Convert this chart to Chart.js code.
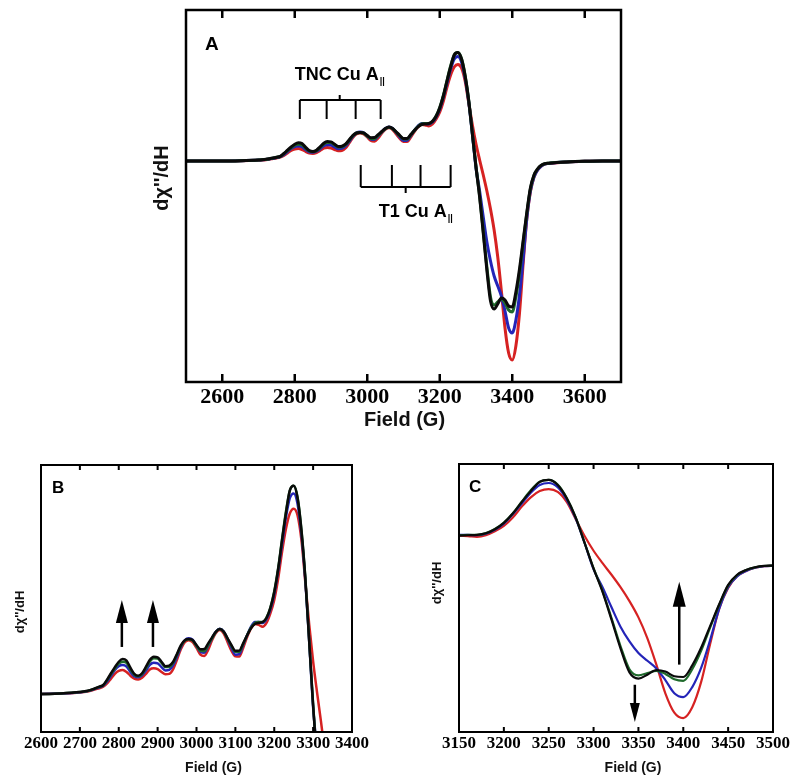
<!DOCTYPE html>
<html>
<head>
<meta charset="utf-8">
<script src="https://cdn.jsdelivr.net/npm/chart.js@4.4.1/dist/chart.umd.min.js"></script>
<style>
body { margin: 0; background: #fff; width: 800px; height: 783px; position: relative; overflow: hidden; }
.panel { position: absolute; }
</style>
</head>
<body>
<div class="panel" style="left:130px;top:0;width:520px;height:440px"><canvas id="chartA"></canvas></div>
<div class="panel" style="left:0;top:455px;width:370px;height:328px"><canvas id="chartB"></canvas></div>
<div class="panel" style="left:400px;top:455px;width:400px;height:328px"><canvas id="chartC"></canvas></div>
<script>

// magnetic field (G)
var field = [2500, 2550, 2600, 2650,
  2700, 2710, 2720, 2730, 2740, 2750, 2760, 2770, 2780, 2790,
  2800, 2810, 2820, 2830, 2840, 2850, 2860, 2870, 2880, 2890,
  2900, 2910, 2920, 2930, 2940, 2950, 2960, 2970, 2980, 2990,
  3000, 3010, 3020, 3030, 3040, 3050, 3060, 3070, 3080, 3090,
  3100, 3110, 3120, 3130, 3140, 3150, 3160, 3170, 3180, 3190,
  3200, 3210, 3220, 3230, 3240, 3250, 3260, 3270, 3280, 3290,
  3300, 3310, 3320, 3330, 3340, 3350, 3360, 3370, 3380, 3390,
  3400, 3410, 3420, 3430, 3440, 3450, 3460, 3470, 3480, 3490,
  3500, 3550, 3600, 3650, 3700];

var blackY = [0, 0, 0, 0.3,
  1, 1.3, 1.7, 2.3, 3, 3.8, 4.7, 7.5, 10.8, 14,
  16.8, 18.2, 17.4, 13.7, 10.5, 9.5, 10.8, 14.2, 17.8, 19.4,
  19.1, 16.8, 14.5, 14.8, 16.8, 21, 25.5, 28, 28.6, 28.1,
  25.5, 23.3, 23.4, 26.4, 29.5, 32.5, 33.9, 32.5, 29, 25.5,
  22.5, 22.6, 26.4, 30.5, 34.2, 36.5, 37, 37.5, 39.6, 44.8,
  53, 65, 80, 94, 106, 108.5, 102, 85, 60, 27,
  -6, -36, -72, -109, -140, -148, -143, -137, -139, -145,
  -146, -131, -108, -80, -52, -27, -14, -7.8, -4.3, -2.6,
  -2.2, -1, -0.3, 0, 0];

var greenY = [0, 0, 0, 0.3,
  1, 1.3, 1.6, 2.2, 2.9, 3.7, 4.5, 7.2, 10.3, 13.3,
  15.8, 16.8, 16.2, 12.8, 10, 9.2, 10.4, 13.5, 17, 18.6,
  18.4, 16.2, 14, 14.2, 16.3, 20.5, 25, 27.8, 28.5, 27.8,
  25, 22.5, 22.3, 25.5, 29, 32.3, 33.8, 32.3, 28.7, 25,
  22, 22, 26, 30.5, 34.5, 37, 37.5, 37.5, 39.8, 45,
  53.5, 65.5, 80.5, 95, 106, 108.5, 102.5, 85.5, 60.5, 27.5,
  -5.5, -35, -70, -106, -136, -144, -141, -138, -142, -149,
  -151, -136, -112, -82, -53, -28, -14.5, -8, -4.4, -2.7,
  -2.2, -1, -0.3, 0, 0];

var blueY = [0, 0, 0, 0.25,
  0.9, 1.2, 1.5, 2, 2.8, 3.4, 4.3, 6.5, 9.5, 12.5,
  14.5, 15.1, 14.3, 11.5, 9.2, 8.7, 9.8, 12.2, 15.2, 16.3,
  16, 14, 12.3, 12.6, 15, 19.5, 24.5, 28, 29, 28.3,
  25, 22, 21.5, 25, 29, 32.5, 34, 32.5, 28.5, 24,
  20.5, 20.8, 25.5, 30.5, 35, 37.5, 37.5, 37, 39, 44,
  52, 64, 78, 92, 102, 104.5, 99, 83, 59, 27,
  -7, -30, -56, -81, -100, -115, -125, -135, -150, -167,
  -172, -159, -134, -98, -58, -30, -16, -9, -5, -3,
  -2.4, -1, -0.3, 0, 0];

var redY = [0, 0, 0, 0.2,
  0.8, 1, 1.3, 1.8, 2.5, 3, 3.8, 5.5, 8, 10.5,
  12, 12.5, 11.5, 9.5, 8, 7.6, 8.5, 10.5, 12.8, 13.4,
  13, 11.5, 10.3, 10.5, 13, 18, 23.5, 27, 28, 27,
  24, 20.5, 19.8, 23, 28, 31.8, 33.3, 31.5, 27, 22.5,
  19.6, 19.5, 24, 29.5, 34, 36.5, 36, 35, 37, 42,
  49, 60, 74, 86, 94, 96.5, 93, 80, 58, 36,
  17, 1, -14, -30, -48, -69, -96, -130, -167, -192,
  -199, -185, -152, -103, -58, -31, -16, -9, -5, -3,
  -2.5, -1, -0.3, 0, 0];

// tick labels of the three panels
var ticksA = [2600, 2800, 3000, 3200, 3400, 3600];
var ticksB = [2600, 2700, 2800, 2900, 3000, 3100, 3200, 3300, 3400];
var ticksC = [3150, 3200, 3250, 3300, 3350, 3400, 3450, 3500];

// hyperfine bracket positions in panel A (G)
var tncLines = [2814, 2888, 2968, 3037];
var t1Lines = [2982, 3068, 3147, 3230];

var sansBold = "'Liberation Sans', Arial, sans-serif";
var serifBold = "'Liberation Serif', 'Times New Roman', serif";

function pts(ys) {
  return field.map(function (x, i) { return { x: x, y: ys[i] }; });
}

function series(width) {
  var list = [
    ['black', blackY, '#0a0a0a'],
    ['green', greenY, '#1f6a2c'],
    ['blue', blueY, '#2424b8'],
    ['red', redY, '#d62222']
  ];
  return list.map(function (s) {
    return {
      label: s[0], data: pts(s[1]), borderColor: s[2], borderWidth: width,
      pointRadius: 0, fill: false, cubicInterpolationMode: 'monotone',
      borderJoinStyle: 'round', borderCapStyle: 'round'
    };
  });
}

function arrow(ctx, x, y0, y1, headLen, headW, lw) {
  var dir = y1 < y0 ? 1 : -1;
  ctx.lineWidth = lw;
  ctx.beginPath();
  ctx.moveTo(x, y0);
  ctx.lineTo(x, y1 + dir * headLen * 0.8);
  ctx.stroke();
  ctx.beginPath();
  ctx.moveTo(x, y1);
  ctx.lineTo(x - headW / 2, y1 + dir * headLen);
  ctx.lineTo(x + headW / 2, y1 + dir * headLen);
  ctx.closePath();
  ctx.fill();
}

function subText(ctx, main, sub, cx, cy, size) {
  ctx.font = 'bold ' + size + 'px ' + sansBold;
  var w1 = ctx.measureText(main).width;
  ctx.font = 'bold ' + Math.round(size * 0.5) + 'px ' + sansBold;
  var w2 = ctx.measureText(sub).width;
  var left = cx - (w1 + w2 + 1) / 2;
  ctx.textAlign = 'left';
  ctx.textBaseline = 'middle';
  ctx.font = 'bold ' + size + 'px ' + sansBold;
  ctx.fillText(main, left, cy);
  ctx.font = 'bold ' + Math.round(size * 0.5) + 'px ' + sansBold;
  ctx.fillText(sub, left + w1 + 1, cy + size * 0.38);
}

function framePlugin(set) {
  return {
    id: 'frame',
    afterDatasetsDraw: function (chart) {
      var ctx = chart.ctx, a = chart.chartArea, x = chart.scales.x, y = chart.scales.y;
      ctx.save();
      ctx.strokeStyle = '#000';
      ctx.fillStyle = '#000';
      ctx.lineWidth = set.frame;
      ctx.strokeRect(a.left, a.top, a.right - a.left, a.bottom - a.top);
      set.ticks.forEach(function (v) {
        var px = x.getPixelForValue(v);
        if (px <= a.left + 1 || px >= a.right - 1) return;
        ctx.beginPath();
        ctx.moveTo(px, a.bottom); ctx.lineTo(px, a.bottom - set.tick);
        ctx.moveTo(px, a.top); ctx.lineTo(px, a.top + set.tick);
        ctx.stroke();
      });
      ctx.font = 'bold ' + set.letterSize + 'px ' + sansBold;
      ctx.textAlign = 'left';
      ctx.textBaseline = 'middle';
      ctx.fillText(set.letter, a.left + set.letterX, a.top + set.letterY);
      // axis titles
      ctx.fillStyle = '#111';
      ctx.textAlign = 'center';
      ctx.font = 'bold ' + set.xtSize + 'px ' + sansBold;
      ctx.fillText('Field (G)', (a.left + a.right) / 2 + set.xtDx, a.bottom + set.xtDy);
      ctx.save();
      ctx.translate(a.left - set.ytX, a.top + set.ytY);
      ctx.rotate(-Math.PI / 2);
      ctx.font = 'bold ' + set.ytSize + 'px ' + sansBold;
      ctx.fillText('d\u03C7\'\'/dH', 0, 0);
      ctx.restore();
      ctx.fillStyle = '#000';
      if (set.extra) set.extra(ctx, x, y);
      ctx.restore();
    }
  };
}

function makeChart(id, set) {
  return new Chart(document.getElementById(id), {
    type: 'line',
    data: { datasets: series(set.lw) },
    options: {
      responsive: true,
      maintainAspectRatio: false,
      animation: false,
      devicePixelRatio: 1,
      events: [],
      layout: { padding: set.pad },
      plugins: { legend: { display: false }, tooltip: { enabled: false } },
      scales: {
        x: {
          type: 'linear', min: set.xmin, max: set.xmax,
          border: { display: false },
          grid: { display: false, drawTicks: false },
          afterBuildTicks: function (s) { s.ticks = set.ticks.map(function (v) { return { value: v }; }); },
          afterFit: function (s) { s.height = set.xh; },
          ticks: {
            autoSkip: false, maxRotation: 0, padding: set.tickPad, color: '#000',
            font: { family: serifBold, size: set.tickSize, weight: 'bold' },
            callback: function (v) { return String(v); }
          },
          title: { display: false }
        },
        y: {
          min: set.ymin, max: set.ymax,
          border: { display: false },
          grid: { display: false, drawTicks: false },
          ticks: { display: false },
          afterFit: function (s) { s.width = set.yw; },
          title: { display: false }
        }
      }
    },
    plugins: [framePlugin(set)]
  });
}

makeChart('chartA', {
  lw: 3, xmin: 2500, xmax: 3700, ymin: -221, ymax: 151, ticks: ticksA,
  pad: { top: 10, right: 29, left: 0, bottom: 0 }, xh: 58, yw: 56,
  tickSize: 22, tickPad: 2, xtSize: 20, xtDx: 1, xtDy: 38, ytSize: 20, ytX: 24, ytY: 168,
  frame: 2.5, tick: 8, letter: 'A', letterSize: 19, letterX: 19, letterY: 35,
  extra: function (ctx, x, y) {
    ctx.lineWidth = 2;
    var top = y.getPixelForValue(61), foot = y.getPixelForValue(42);
    ctx.beginPath();
    ctx.moveTo(x.getPixelForValue(tncLines[0]), top);
    ctx.lineTo(x.getPixelForValue(tncLines[3]), top);
    tncLines.forEach(function (v) {
      var px = x.getPixelForValue(v);
      ctx.moveTo(px, top); ctx.lineTo(px, foot);
    });
    ctx.moveTo(x.getPixelForValue(2924), top);
    ctx.lineTo(x.getPixelForValue(2924), y.getPixelForValue(66));
    var bot = y.getPixelForValue(-26), head = y.getPixelForValue(-4);
    ctx.moveTo(x.getPixelForValue(t1Lines[0]), bot);
    ctx.lineTo(x.getPixelForValue(t1Lines[3]), bot);
    t1Lines.forEach(function (v) {
      var px = x.getPixelForValue(v);
      ctx.moveTo(px, bot); ctx.lineTo(px, head);
    });
    ctx.moveTo(x.getPixelForValue(3106), bot);
    ctx.lineTo(x.getPixelForValue(3106), y.getPixelForValue(-32));
    ctx.stroke();
    subText(ctx, 'TNC Cu A', '||', x.getPixelForValue(2924), y.getPixelForValue(86), 18);
    subText(ctx, 'T1 Cu A', '||', x.getPixelForValue(3134), y.getPixelForValue(-51), 18);
  }
});

makeChart('chartB', {
  lw: 2.5, xmin: 2600, xmax: 3400, ymin: -19.8, ymax: 119.3, ticks: ticksB,
  pad: { top: 10, right: 16, left: 0, bottom: 0 }, xh: 51, yw: 41,
  tickSize: 17, tickPad: 1, xtSize: 14, xtDx: 17, xtDy: 36, ytSize: 13, ytX: 21, ytY: 147,
  frame: 2, tick: 5, letter: 'B', letterSize: 17, letterX: 11, letterY: 23,
  extra: function (ctx, x, y) {
    [2808, 2888].forEach(function (v) {
      arrow(ctx, x.getPixelForValue(v), y.getPixelForValue(24.5), y.getPixelForValue(49), 23, 12, 2.5);
    });
  }
});

makeChart('chartC', {
  lw: 2.2, xmin: 3150, xmax: 3500, ymin: -217, ymax: 129, ticks: ticksC,
  pad: { top: 9, right: 27, left: 0, bottom: 0 }, xh: 51, yw: 59,
  tickSize: 17, tickPad: 1, xtSize: 14, xtDx: 17, xtDy: 36, ytSize: 13, ytX: 22, ytY: 119,
  frame: 2, tick: 5, letter: 'C', letterSize: 17, letterX: 10, letterY: 23,
  extra: function (ctx, x, y) {
    arrow(ctx, x.getPixelForValue(3346), y.getPixelForValue(-156), y.getPixelForValue(-204), 19, 10, 2.5);
    arrow(ctx, x.getPixelForValue(3395.5), y.getPixelForValue(-130), y.getPixelForValue(-23), 25, 13, 2.5);
  }
});
</script>
</body>
</html>
